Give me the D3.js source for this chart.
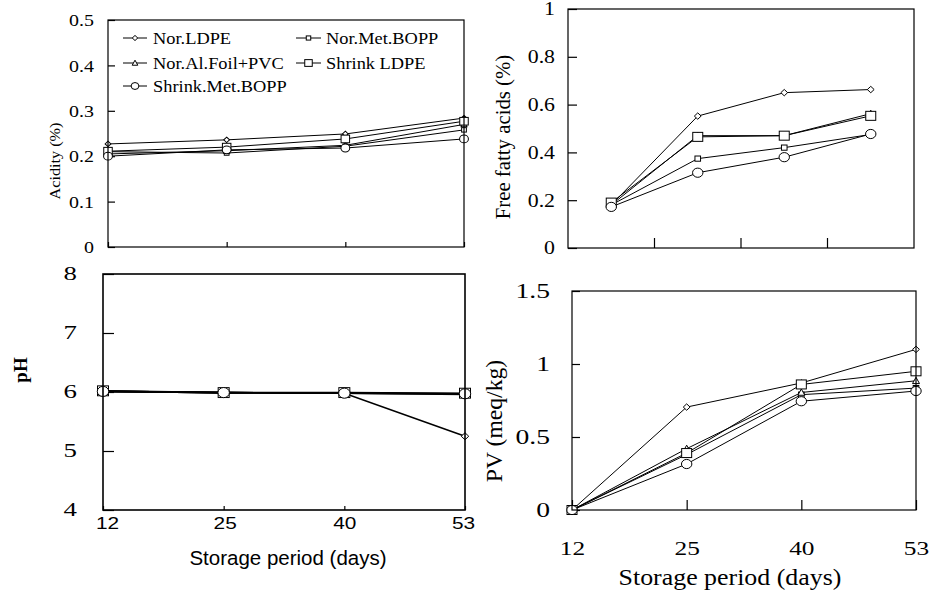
<!DOCTYPE html>
<html><head><meta charset="utf-8">
<script src="https://cdn.jsdelivr.net/npm/d3@7"></script>
<style>body{margin:0;background:#fff}svg{display:block}</style>
</head><body>
<script>
const days = ["12","25","40","53"];
const seriesNames = ["Nor.LDPE","Nor.Met.BOPP","Nor.Al.Foil+PVC","Shrink LDPE","Shrink.Met.BOPP"];

// Acidity (%)
const acidity = [
  [0.227, 0.236, 0.249, 0.284],
  [0.210, 0.207, 0.222, 0.258],
  [0.205, 0.212, 0.224, 0.270],
  [0.211, 0.220, 0.238, 0.277],
  [0.200, 0.214, 0.218, 0.238]
];
// Free fatty acids (%)
const ffa = [
  [0.180, 0.552, 0.650, 0.663],
  [0.180, 0.374, 0.420, 0.475],
  [0.180, 0.470, 0.470, 0.562],
  [0.190, 0.465, 0.470, 0.553],
  [0.172, 0.315, 0.380, 0.477]
];
// pH
const ph = [
  [6.01, 5.99, 5.98, 5.25],
  [6.01, 5.99, 5.98, 5.97],
  [6.01, 5.99, 5.98, 5.96],
  [6.02, 5.99, 5.99, 5.98],
  [6.01, 5.99, 5.98, 5.97]
];
// PV (meq/kg)
const pv = [
  [0, 0.705, 0.870, 1.100],
  [0, 0.380, 0.790, 0.835],
  [0, 0.420, 0.805, 0.885],
  [0, 0.390, 0.860, 0.950],
  [0, 0.315, 0.745, 0.815]
];

const acidTicks = [0, 0.1, 0.2, 0.3, 0.4, 0.5];
const ffaTicks = [0, 0.2, 0.4, 0.6, 0.8, 1];
const phTicks = [4, 5, 6, 7, 8];
const pvTicks = [0, 0.5, 1, 1.5];

const SERIF = '"Liberation Serif"';
const SANS = '"Liberation Sans"';

const W = 931, H = 594;
const svg = d3.select("body").append("svg").attr("width", W).attr("height", H);

function drawMarker(g, i, x, y, k) {
  const s = g.append("g").attr("transform", `translate(${x},${y}) scale(${k})`)
    .attr("fill", "#fff").attr("stroke", "#000").attr("stroke-width", 1 / k);
  if (i === 0) s.append("path").attr("d", "M0,-3.2L3.4,0L0,3.2L-3.4,0Z");
  else if (i === 1) s.append("rect").attr("x", -2.8).attr("y", -2.6).attr("width", 5.6).attr("height", 5.2);
  else if (i === 2) s.append("path").attr("d", "M0,-3.5L3.5,2.8L-3.5,2.8Z");
  else if (i === 3) s.append("rect").attr("x", -5).attr("y", -4.5).attr("width", 10).attr("height", 9);
  else s.append("ellipse").attr("rx", 5.2).attr("ry", 4.6);
}

// horizontally widen glyphs to match the reference's stretched lettering
function stretch(sel, k) {
  if (!k || k === 1) return;
  sel.each(function () {
    const w = this.getComputedTextLength();
    d3.select(this).attr("textLength", w * k).attr("lengthAdjust", "spacingAndGlyphs");
  });
}

function setFont(sel, fam, fs, k) {
  sel.style("font-family", fam).style("font-size", fs + "px").attr("fill", "#000");
  stretch(sel, k);
}

function panel(cfg) {
  const g = svg.append("g");
  const x = cfg.band
    ? d3.scaleBand().domain(days).range([cfg.x0, cfg.x1])
    : d3.scalePoint().domain(days).range([cfg.x0, cfg.x1]).padding(0);
  const xc = d => cfg.band ? x(d) + x.bandwidth() / 2 : x(d);
  const y = d3.scaleLinear().domain(cfg.yDomain).range([cfg.y1, cfg.y0]);

  const ya = g.append("g").attr("transform", `translate(${cfg.x0},0)`)
    .call(d3.axisLeft(y).tickValues(cfg.yTicks).tickSize(-cfg.yTickLen).tickPadding(cfg.yPad)
      .tickFormat(d => String(+d.toFixed(2))));
  ya.select(".domain").remove();
  ya.selectAll("line").attr("stroke", "#000").attr("stroke-width", 1.2);
  setFont(ya.selectAll("text"), SERIF, cfg.yFs, cfg.yK);

  if (cfg.band) {
    const bounds = days.slice(1).map(d => x(d));
    g.append("g").selectAll("line").data(bounds).join("line")
      .attr("x1", d => d).attr("x2", d => d).attr("y1", cfg.y1).attr("y2", cfg.y1 - cfg.xTickLen)
      .attr("stroke", "#000").attr("stroke-width", 1.2);
  } else {
    const xa = g.append("g").attr("transform", `translate(0,${cfg.y1})`)
      .call(d3.axisBottom(x).tickSize(-cfg.xTickLen).tickPadding(cfg.xPad || 3)
        .tickFormat(cfg.xLabels ? (d => d) : ""));
    xa.select(".domain").remove();
    xa.selectAll("line").attr("stroke", "#000").attr("stroke-width", 1.2);
    if (cfg.xLabels) setFont(xa.selectAll("text"), cfg.xFont, cfg.xFs, cfg.xK);
    if (cfg.xShift) xa.selectAll(".tick text").attr("dx", (d, i) => cfg.xShift[i]);
  }

  const line = d3.line().x((d, i) => xc(days[i])).y(d => y(d));
  cfg.data.forEach(vals => {
    g.append("path").attr("d", line(vals)).attr("fill", "none")
      .attr("stroke", "#000").attr("stroke-width", cfg.lw || 1);
  });
  cfg.data.forEach((vals, i) => {
    vals.forEach((v, j) => drawMarker(g, i, xc(days[j]), y(v), cfg.mk));
  });

  g.append("rect").attr("x", cfg.x0).attr("y", cfg.y0)
    .attr("width", cfg.x1 - cfg.x0).attr("height", cfg.y1 - cfg.y0)
    .attr("fill", "none").attr("stroke", "#000").attr("stroke-width", cfg.fw || 1.2);

  const yl = g.append("text")
    .attr("transform", `translate(${cfg.yLabX},${cfg.yLabY}) rotate(-90)`)
    .attr("text-anchor", "middle")
    .style("font-family", SERIF).style("font-size", cfg.yLabFs + "px")
    .style("font-weight", cfg.yLabBold ? "bold" : "normal")
    .attr("dominant-baseline", "central").text(cfg.yLab);
  stretch(yl, cfg.yLabK);

  if (cfg.xTitle) {
    const xt = g.append("text").attr("x", cfg.xTitleX).attr("y", cfg.xTitleY)
      .attr("text-anchor", "middle")
      .style("font-family", cfg.xTitleFont).style("font-size", cfg.xTitleFs + "px").text(cfg.xTitle);
    stretch(xt, cfg.xTitleK);
  }
  return g;
}

// Panel 1: Acidity
const p1 = panel({
  x0: 108, x1: 464, y0: 20, y1: 247, yDomain: [0, 0.5], yTicks: acidTicks,
  yTickLen: 7, yPad: 14, yFs: 17.5, yK: 1.14, xTickLen: 5, xLabels: false,
  data: acidity, mk: 0.85, yLab: "Acidity (%)", yLabX: 55, yLabY: 161, yLabFs: 15, yLabK: 1.08
});
const legendRows = [[0, 1], [2, 3], [4]];
const legY = [38, 63, 86];
const legX = [[123, 147, 153], [296, 321, 326]];
legendRows.forEach((row, r) => {
  row.forEach((si, c) => {
    const [a, b, t] = legX[c];
    p1.append("line").attr("x1", a).attr("x2", b).attr("y1", legY[r]).attr("y2", legY[r])
      .attr("stroke", "#000").attr("stroke-width", 1);
    drawMarker(p1, si, (a + b) / 2, legY[r], si >= 3 ? 0.75 : 0.8);
    const t1 = p1.append("text").attr("x", t).attr("y", legY[r])
      .attr("dominant-baseline", "central")
      .style("font-family", SERIF).style("font-size", "17.5px").text(seriesNames[si]);
    stretch(t1, 1.05);
  });
});

// Panel 2: FFA
panel({
  x0: 568, x1: 914, y0: 9, y1: 248, yDomain: [0, 1], yTicks: ffaTicks, band: true,
  yTickLen: 9, yPad: 13, yFs: 18.5, yK: 1.18, xTickLen: 10,
  data: ffa, mk: 1.0, yLab: "Free fatty acids (%)", yLabX: 503, yLabY: 137, yLabFs: 20, yLabK: 1.04
});

// Panel 3: pH
panel({
  x0: 103, x1: 465, y0: 274, y1: 510, yDomain: [4, 8], yTicks: phTicks,
  yTickLen: 11, yPad: 26, yFs: 18.5, yK: 1.45, xTickLen: 4, xLabels: true, xPad: 8, xFs: 16, xK: 1.3, xFont: SANS,
  xShift: [4, 1, 0, -2],
  data: ph, mk: 1.1, lw: 1.6, fw: 1.6, yLab: "pH", yLabBold: true, yLabX: 20, yLabY: 370, yLabFs: 19,
  xTitle: "Storage period (days)", xTitleX: 288, xTitleY: 565, xTitleFont: SANS, xTitleFs: 20.5
});

// Panel 4: PV
panel({
  x0: 572, x1: 916, y0: 291, y1: 510, yDomain: [0, 1.5], yTicks: pvTicks,
  yTickLen: 8, yPad: 22, yFs: 20, yK: 1.38, xTickLen: 10, xLabels: true, xPad: 31, xFs: 19.5, xK: 1.3, xFont: SERIF,
  data: pv, mk: 1.0, yLab: "PV (meq/kg)", yLabX: 494, yLabY: 421, yLabFs: 22.5, yLabK: 1.05,
  xTitle: "Storage period (days)", xTitleX: 730, xTitleY: 585, xTitleFont: SERIF, xTitleFs: 22.5, xTitleK: 1.15
});
</script>
</body></html>
